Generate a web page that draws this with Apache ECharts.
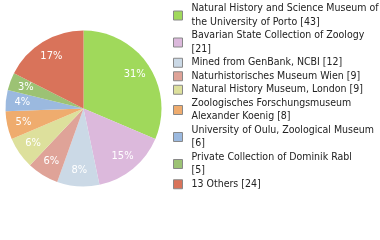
<!DOCTYPE html>
<html><head><meta charset="utf-8">
<script src="https://cdn.jsdelivr.net/npm/echarts@6/dist/echarts.min.js"></script>
<style>html,body{margin:0;padding:0;background:#fff}#c{width:380px;height:240px}</style>
</head><body><div id="c"></div>
<script>
const categories = [
  "Natural History and Science Museum of\nthe University of Porto",
  "Bavarian State Collection of Zoology\n",
  "Mined from GenBank, NCBI",
  "Naturhistorisches Museum Wien",
  "Natural History Museum, London",
  "Zoologisches Forschungsmuseum\nAlexander Koenig",
  "University of Oulu, Zoological Museum\n",
  "Private Collection of Dominik Rabl\n",
  "13 Others"
];
const values = [43, 21, 12, 9, 9, 8, 6, 5, 24];
const colors = ["#a0d95b", "#dcb9dc", "#cbd9e6", "#dfa398", "#dde09c", "#efac6e", "#9bb9df", "#9cc274", "#d9735a"];

const total = values.reduce((a, b) => a + b, 0);
const data = categories.map((n, i) => ({ name: n, value: values[i], itemStyle: { color: colors[i] } }));
const FONT = "DejaVu Sans Condensed, DejaVu Sans";
const chart = echarts.init(document.getElementById('c'), null, { renderer: 'canvas' });
chart.setOption({
  animation: false,
  legend: {
    orient: 'vertical', left: 173, top: 2, padding: 0, itemWidth: 9, itemHeight: 9, itemGap: 0,
    icon: 'rect',
    itemStyle: { borderColor: '#888', borderWidth: 1 },
    textStyle: { fontFamily: FONT, fontSize: 10.5, color: '#222', lineHeight: 13.5, padding: [0, 0, 0, 4] },
    formatter: function (name) {
      const i = categories.indexOf(name);
      return name + (name.endsWith('\n') ? '' : ' ') + '[' + values[i] + ']';
    },
    data: categories
  },
  series: [{
    type: 'pie', center: [83.5, 108.5], radius: [0, 78], startAngle: 90, clockwise: true,
    label: { show: false }, labelLine: { show: false }, data: data, silent: true
  }, {
    type: 'pie', center: [83.5, 108.5], radius: [39, 78], startAngle: 90, clockwise: true,
    silent: true, legendHoverLink: false,
    itemStyle: { color: 'rgba(0,0,0,0)' },
    label: {
      show: true, position: 'inside', color: '#fff', fontFamily: FONT, fontSize: 11,
      formatter: p => Math.floor(p.value / total * 100) + '%'
    },
    labelLine: { show: false },
    data: categories.map((n, i) => ({ name: n + ' ', value: values[i], itemStyle: { color: 'rgba(0,0,0,0)' } }))
  }]
});
</script></body></html>
